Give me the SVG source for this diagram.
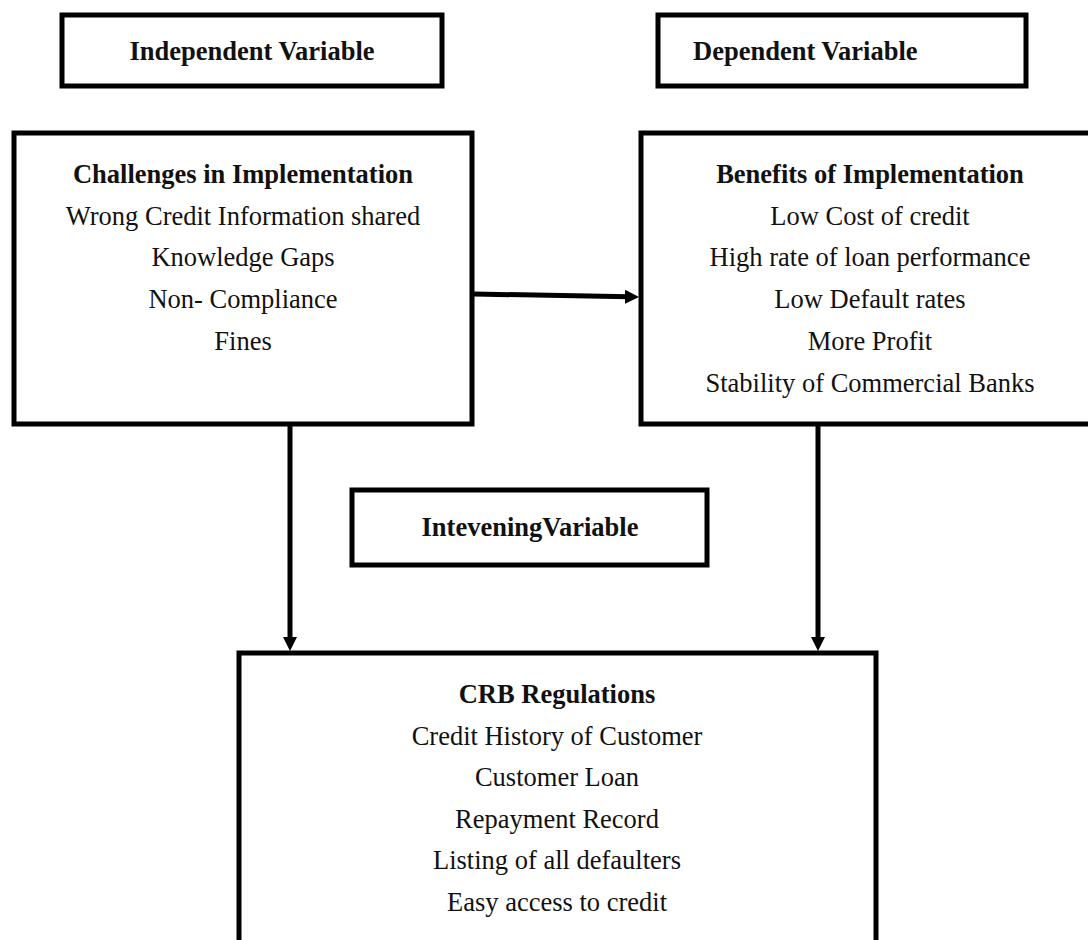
<svg xmlns="http://www.w3.org/2000/svg" width="1088" height="940" viewBox="0 0 1088 940">
<defs>
<style>
.box{fill:#fff;stroke:#000;stroke-width:5}
.t{font-family:"Liberation Serif","Times New Roman",serif;font-size:26.5px;fill:#111;text-anchor:middle}
.b{font-weight:bold}
.c{fill:none;stroke:#000;stroke-width:5}
</style>
<marker id="ah" markerUnits="userSpaceOnUse" markerWidth="14" markerHeight="14" refX="4" refY="7" orient="auto">
<path d="M0,0 L14,7 L0,14 z" fill="#000"/>
</marker>
</defs>
<rect width="1088" height="940" fill="#fff"/>
<g id="independent-label">
<rect class="box" x="62" y="15" width="380" height="71"/>
<text class="t b" x="252" y="60">Independent Variable</text>
</g>
<g id="dependent-label">
<rect class="box" x="658" y="15" width="368" height="71"/>
<text class="t b" x="693" y="60" style="text-anchor:start">Dependent Variable</text>
</g>
<g id="challenges">
<rect class="box" x="14" y="133" width="458" height="291"/>
<text class="t b" x="243" y="183">Challenges in Implementation</text>
<text class="t" x="243" y="225">Wrong Credit Information shared</text>
<text class="t" x="243" y="266">Knowledge Gaps</text>
<text class="t" x="243" y="308">Non- Compliance</text>
<text class="t" x="243" y="350">Fines</text>
</g>
<g id="benefits">
<rect class="box" x="641" y="133" width="460" height="291"/>
<text class="t b" x="870" y="183">Benefits of Implementation</text>
<text class="t" x="870" y="225">Low Cost of credit</text>
<text class="t" x="870" y="266">High rate of loan performance</text>
<text class="t" x="870" y="308">Low Default rates</text>
<text class="t" x="870" y="350">More Profit</text>
<text class="t" x="870" y="392">Stability of Commercial Banks</text>
</g>
<g id="intervening-label">
<rect class="box" x="352" y="490" width="355" height="75"/>
<text class="t b" x="530" y="536">InteveningVariable</text>
</g>
<g id="crb">
<rect class="box" x="239" y="653" width="637" height="310"/>
<text class="t b" x="557" y="703">CRB Regulations</text>
<text class="t" x="557" y="745">Credit History of Customer</text>
<text class="t" x="557" y="786">Customer Loan</text>
<text class="t" x="557" y="828">Repayment Record</text>
<text class="t" x="557" y="869">Listing of all defaulters</text>
<text class="t" x="557" y="911">Easy access to credit</text>
</g>
<g id="connectors">
<line class="c" x1="474" y1="294" x2="629" y2="296.8" marker-end="url(#ah)"/>
<line class="c" x1="290" y1="426" x2="290" y2="641" marker-end="url(#ah)"/>
<line class="c" x1="818" y1="426" x2="818" y2="641" marker-end="url(#ah)"/>
</g>
</svg>
